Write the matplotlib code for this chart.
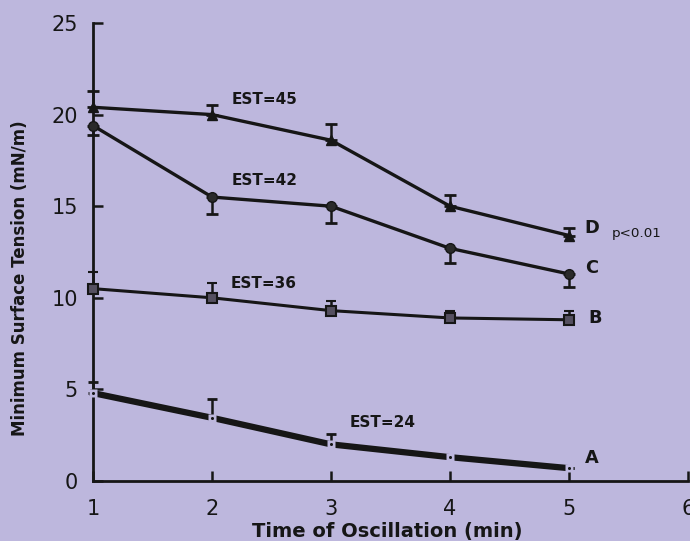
import matplotlib
matplotlib.use("Agg")
import matplotlib.pyplot as plt

plt.rcParams['font.family'] = ['DejaVu Sans']

time_min = [1, 2, 3, 4, 5]
D_vals = [20.4, 20.0, 18.6, 15.0, 13.4]
D_err_up = [0.9, 0.5, 0.9, 0.6, 0.4]
C_vals = [19.4, 15.5, 15.0, 12.7, 11.3]
C_err_dn = [0.5, 0.9, 0.9, 0.8, 0.7]
B_vals = [10.5, 10.0, 9.3, 8.9, 8.8]
B_err_up = [0.9, 0.8, 0.5, 0.4, 0.5]
A_vals = [4.8, 3.45, 2.0, 1.3, 0.7]
A_err_up = [0.6, 1.05, 0.55, 0.0, 0.0]

x_ticks = [1, 2, 3, 4, 5, 6]
y_ticks = [0, 5, 10, 15, 20, 25]

est_labels = ["EST=45", "EST=42", "EST=36", "EST=24"]
series_labels = ["D", "C", "B", "A"]

BG = "#bdb7dd"
INK = "#161616"

fig = plt.figure(figsize=(6.9, 5.41), dpi=100, facecolor=BG)
ax = fig.add_axes([93/690, 1-481/541, (688-93)/690, (481-23)/541], facecolor=BG)

zeros = [0]*5
ax.errorbar(time_min, D_vals, yerr=[zeros, D_err_up], color=INK, lw=2.4,
            marker='^', ms=7, mfc=INK, mec=INK, ecolor=INK, elinewidth=1.8,
            capsize=4, capthick=2, clip_on=False, zorder=3)
ax.errorbar(time_min, C_vals, yerr=[C_err_dn, zeros], color=INK, lw=2.4,
            marker='o', ms=7, mfc='#2a2a2a', mec=INK, ecolor=INK, elinewidth=1.8,
            capsize=4, capthick=2, clip_on=False, zorder=3)
ax.errorbar(time_min, B_vals, yerr=[zeros, B_err_up], color=INK, lw=2.2,
            marker='s', ms=6.5, mfc='#555060', mec=INK, mew=1.5, ecolor=INK,
            elinewidth=1.8, capsize=3.5, capthick=2, clip_on=False, zorder=3)
ax.errorbar(time_min, A_vals, yerr=[zeros, A_err_up], color=INK, lw=4.5,
            marker='none', ecolor=INK, elinewidth=1.8, capsize=3.5, capthick=2,
            clip_on=False, zorder=3)
# gaps at A data points with a small dot
ax.plot(time_min, A_vals, linestyle='none', marker='s', ms=5.5, mfc=BG, mec='none',
        clip_on=False, zorder=4)
ax.plot(time_min, A_vals, linestyle='none', marker='o', ms=2.2, mfc=INK, mec='none',
        clip_on=False, zorder=5)

ax.set_xlim(1, 6)
ax.set_ylim(0, 25)
ax.set_xticks(x_ticks)
ax.set_yticks(y_ticks)
for s in ['top', 'right']:
    ax.spines[s].set_visible(False)
for s in ['left', 'bottom']:
    ax.spines[s].set_linewidth(2.0)
    ax.spines[s].set_color(INK)
ax.tick_params(direction='in', length=7, width=1.8, color=INK, labelsize=15,
               labelcolor=INK)
ax.tick_params(axis='y', pad=11)
ax.tick_params(axis='x', pad=13)

ax.set_xlabel("Time of Oscillation (min)", fontsize=14, fontweight='bold',
              color=INK, va='top', ha='center')
ax.xaxis.set_label_coords((387-93)/595, (481-522)/458)
ax.set_ylabel("Minimum Surface Tension (mN/m)", fontsize=12, fontweight='bold',
              color=INK, va='center', ha='center')
ax.yaxis.set_label_coords((20-93)/595, (481-278)/458)

est_pos = [(2.44, 20.8), (2.44, 16.4), (2.43, 10.8), (3.43, 3.2)]
for t, (xx, yy) in zip(est_labels, est_pos):
    ax.text(xx, yy, t, fontsize=11, fontweight='bold', color=INK,
            ha='center', va='center')

lab_pos = [(5.19, 13.8), (5.19, 11.6), (5.22, 8.9), (5.19, 1.25)]
for t, (xx, yy) in zip(series_labels, lab_pos):
    ax.text(xx, yy, t, fontsize=12.8, fontweight='bold', color=INK,
            ha='center', va='center')
ax.text(5.57, 13.5, "p<0.01", fontsize=9.7, color=INK, ha='center', va='center')

fig.savefig("out.png", dpi=100, facecolor=BG)
